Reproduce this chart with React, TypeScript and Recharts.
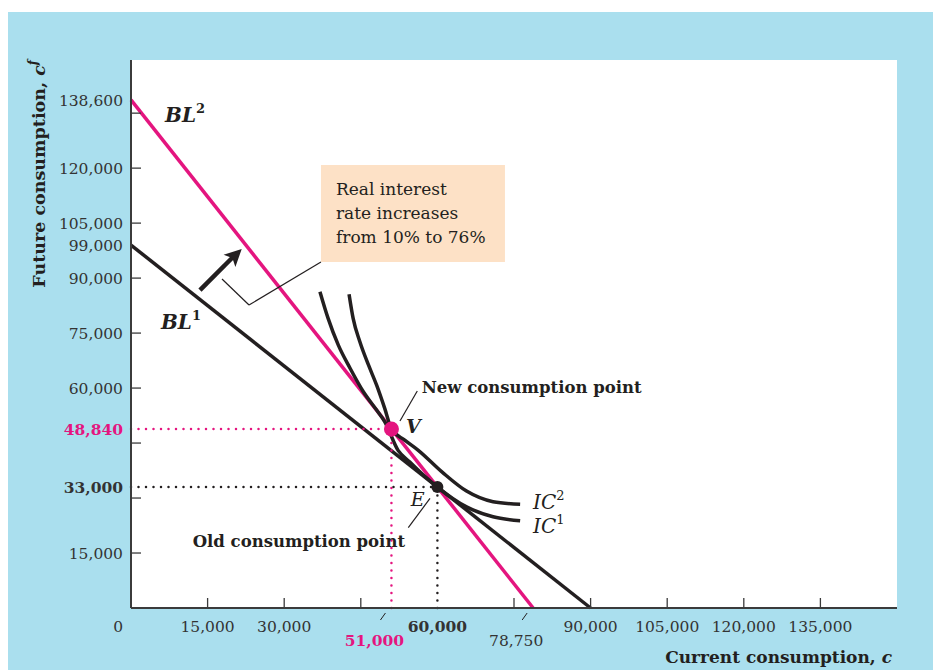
import React from 'react';
import {
  ComposedChart,
  Line,
  XAxis,
  YAxis,
  CartesianGrid,
  ReferenceLine,
  ReferenceDot,
  ReferenceArea,
} from 'recharts';

const MAGENTA = '#e4157f';
const INK     = '#231f20';
const AXIS    = '#3b3b3b';
const SKY     = '#aadfee';
const PEACH   = '#fde1c6';
const FONT    = '"DejaVu Serif", serif';

// budget lines: current consumption c, future consumption cf
const bl1 = [{ c: 0, cf: 99000 }, { c: 90000, cf: 0 }];
const bl2 = [{ c: 0, cf: 138600 }, { c: 78750, cf: 0 }];

// indifference curves
const ic1 = [
  { c: 37000, cf: 86300 },
  { c: 38600, cf: 79000 },
  { c: 40600, cf: 71700 },
  { c: 42900, cf: 65400 },
  { c: 45500, cf: 59000 },
  { c: 48100, cf: 54000 },
  { c: 49700, cf: 50800 },
  { c: 52300, cf: 43000 },
  { c: 54600, cf: 39800 },
  { c: 57300, cf: 36200 },
  { c: 60000, cf: 33000 },
  { c: 65700, cf: 27600 },
  { c: 70900, cf: 24900 },
  { c: 76200, cf: 23800 },
];
const ic2 = [
  { c: 42700, cf: 85600 },
  { c: 43500, cf: 79000 },
  { c: 44800, cf: 72700 },
  { c: 46500, cf: 66300 },
  { c: 48100, cf: 60800 },
  { c: 49700, cf: 54400 },
  { c: 51000, cf: 48840 },
  { c: 53600, cf: 45800 },
  { c: 56200, cf: 43100 },
  { c: 61000, cf: 37000 },
  { c: 65700, cf: 31900 },
  { c: 70900, cf: 29000 },
  { c: 76200, cf: 28300 },
];

const oldPoint = { c: 60000, cf: 33000 };
const newPoint = { c: 51000, cf: 48840 };

// axis ticks
const xTicks     = [0, 15000, 30000, 45000, 51000, 60000, 75000, 78750, 90000, 105000, 120000, 135000];
const xMarks     = [15000, 30000, 45000, 75000, 90000, 105000, 120000, 135000];
const xLabels    = [0, 15000, 30000, 51000, 60000, 78750, 90000, 105000, 120000, 135000];
const xLowered   = [51000, 78750];
const xBold      = [51000, 60000];
const yTicks     = [15000, 30000, 33000, 45000, 48840, 60000, 75000, 90000, 99000, 105000, 120000, 135000, 138600];
const yMarks     = [15000, 30000, 45000, 60000, 75000, 90000, 105000, 120000, 135000];
const yLabels    = [15000, 33000, 48840, 60000, 75000, 90000, 99000, 105000, 120000, 138600];
const yBold      = [33000, 48840];
const pinkTicks  = [48840, 51000];

const fmt = (v: number) => v.toLocaleString('en-US');

// eslint-disable-next-line @typescript-eslint/no-explicit-any
function YTick({ x, y, payload }: any) {
  const v = payload.value;
  return (
    <g>
      {yMarks.includes(v) && <line x1={x} x2={x + 10} y1={y} y2={y} stroke={AXIS} strokeWidth={1.3} />}
      {yLabels.includes(v) && (
        <text
          x={x - 8} y={y} dy="0.36em" textAnchor="end"
          fontFamily={FONT} fontSize={15.5}
          fontWeight={yBold.includes(v) ? 700 : 400}
          fill={pinkTicks.includes(v) ? MAGENTA : '#333'}
        >
          {fmt(v)}
        </text>
      )}
    </g>
  );
}

// eslint-disable-next-line @typescript-eslint/no-explicit-any
function XTick({ x, y, payload }: any) {
  const v = payload.value;
  const low = xLowered.includes(v);
  return (
    <g>
      {xMarks.includes(v) && <line x1={x} x2={x} y1={y} y2={y - 10} stroke={AXIS} strokeWidth={1.3} />}
      {low && <line x1={x - 11} y1={y + 12} x2={x - 6} y2={y + 5} stroke={INK} strokeWidth={1} />}
      {xLabels.includes(v) && (
        <text
          x={v === 0 ? x - 8 : low ? x - 17 : x}
          y={low ? y + 38 : y + 24}
          textAnchor={v === 0 ? 'end' : 'middle'}
          fontFamily={FONT} fontSize={15.5}
          fontWeight={xBold.includes(v) ? 700 : 400}
          fill={pinkTicks.includes(v) ? MAGENTA : '#333'}
        >
          {fmt(v)}
        </text>
      )}
    </g>
  );
}

// eslint-disable-next-line @typescript-eslint/no-explicit-any
const yTitle = (props: any) => {
  const { x, y } = props.viewBox;
  return (
    <text
      transform={`translate(${x + 24},${y}) rotate(-90)`}
      textAnchor="end" fontFamily={FONT} fontSize={17.5} fontWeight={700} fill={INK}
    >
      Future consumption, <tspan fontStyle="italic">c</tspan>
      <tspan fontStyle="italic" fontSize={12} dy={-8}>f</tspan>
    </text>
  );
};

// eslint-disable-next-line @typescript-eslint/no-explicit-any
const xTitle = (props: any) => {
  const { x, y, width } = props.viewBox;
  return (
    <text
      x={x + width - 5} y={y + 55}
      textAnchor="end" fontFamily={FONT} fontSize={17} fontWeight={700} fill={INK}
    >
      Current consumption, <tspan fontStyle="italic">c</tspan>
    </text>
  );
};

// eslint-disable-next-line @typescript-eslint/no-explicit-any
const curveLabel = (name: string, sup: string, bold: boolean) => (p: any) => (
  <text x={p.cx} y={p.cy} fontFamily={FONT} fontSize={20} fontStyle="italic" fontWeight={bold ? 700 : 400} fill={INK}>
    {name}
    <tspan fontStyle="normal" fontSize={13} dy={-9}>{sup}</tspan>
  </text>
);

// eslint-disable-next-line @typescript-eslint/no-explicit-any
const plainLabel = (text: string, opts: any = {}) => (p: any) => (
  <text x={p.cx} y={p.cy} fontFamily={FONT} fontSize={16.5} fill={INK} {...opts}>
    {text}
  </text>
);

// eslint-disable-next-line @typescript-eslint/no-explicit-any
const boxText = (p: any) => (
  <text x={p.cx} y={p.cy} fontFamily={FONT} fontSize={17} fill={INK}>
    <tspan x={p.cx}>Real interest</tspan>
    <tspan x={p.cx} dy={24}>rate increases</tspan>
    <tspan x={p.cx} dy={24}>from 10% to 76%</tspan>
  </text>
);

// eslint-disable-next-line @typescript-eslint/no-explicit-any
const arrowHead = (p: any) => (
  <polygon
    points="0,0 -17,-8.5 -13,0 -17,8.5"
    fill={INK}
    transform={`translate(${p.cx},${p.cy}) rotate(-44)`}
  />
);

export default function App() {
  return (
    <div style={{ position: 'absolute', left: 8, top: 12, width: 925, height: 658, background: SKY }}>
      <ComposedChart width={925} height={658} margin={{ top: 48, right: 36, bottom: 12, left: 13 }}>
        <CartesianGrid horizontal={false} vertical={false} fill="#ffffff" />
        <XAxis
          type="number" dataKey="c" domain={[0, 150000]} ticks={xTicks} interval={0}
          height={50} tickSize={0} tickMargin={0} tickLine={false}
          axisLine={{ stroke: AXIS, strokeWidth: 2 }}
          tick={(p: any) => <XTick {...p} />}
          label={xTitle}
        />
        <YAxis
          type="number" dataKey="cf" domain={[0, 149500]} ticks={yTicks} interval={0}
          width={110} tickSize={0} tickMargin={0} tickLine={false}
          axisLine={{ stroke: AXIS, strokeWidth: 2 }}
          tick={(p: any) => <YTick {...p} />}
          label={yTitle}
        />

        <ReferenceArea x1={37200} x2={73230} y1={94380} y2={120840} fill={PEACH} fillOpacity={1} stroke="none" />

        <Line data={bl2} dataKey="cf" type="linear" stroke={MAGENTA} strokeWidth={3.5} dot={false} activeDot={false} isAnimationActive={false} />
        <Line data={bl1} dataKey="cf" type="linear" stroke={INK} strokeWidth={3.5} dot={false} activeDot={false} isAnimationActive={false} />
        <Line data={ic1} dataKey="cf" type="monotone" stroke={INK} strokeWidth={3.5} dot={false} activeDot={false} isAnimationActive={false} />
        <Line data={ic2} dataKey="cf" type="monotone" stroke={INK} strokeWidth={3.5} dot={false} activeDot={false} isAnimationActive={false} />

        {/* dotted guides */}
        <ReferenceLine segment={[{ x: 0, y: newPoint.cf }, { x: newPoint.c, y: newPoint.cf }]} stroke={MAGENTA} strokeWidth={2.5} strokeDasharray="0 7.5" strokeLinecap="round" />
        <ReferenceLine segment={[{ x: newPoint.c, y: 0 }, { x: newPoint.c, y: newPoint.cf }]} stroke={MAGENTA} strokeWidth={2.5} strokeDasharray="0 7.5" strokeLinecap="round" />
        <ReferenceLine segment={[{ x: 0, y: oldPoint.cf }, { x: oldPoint.c, y: oldPoint.cf }]} stroke={INK} strokeWidth={2.5} strokeDasharray="0 7.5" strokeLinecap="round" />
        <ReferenceLine segment={[{ x: oldPoint.c, y: 0 }, { x: oldPoint.c, y: oldPoint.cf }]} stroke={INK} strokeWidth={2.5} strokeDasharray="0 7.5" strokeLinecap="round" />

        {/* leaders */}
        <ReferenceLine segment={[{ x: 37200, y: 94380 }, { x: 23110, y: 82650 }]} stroke={INK} strokeWidth={1.2} />
        <ReferenceLine segment={[{ x: 23110, y: 82650 }, { x: 17820, y: 89740 }]} stroke={INK} strokeWidth={1.2} />
        <ReferenceLine segment={[{ x: 52670, y: 51010 }, { x: 56060, y: 59180 }]} stroke={INK} strokeWidth={1.2} />
        <ReferenceLine segment={[{ x: 54300, y: 21900 }, { x: 58550, y: 29920 }]} stroke={INK} strokeWidth={1.2} />

        {/* shift arrow */}
        <ReferenceLine segment={[{ x: 13510, y: 86740 }, { x: 20170, y: 96020 }]} stroke={INK} strokeWidth={4.5} />
        <ReferenceDot x={21680} y={97930} r={1} shape={arrowHead} />

        <ReferenceDot x={newPoint.c} y={newPoint.cf} r={7.5} fill={MAGENTA} stroke="none" />
        <ReferenceDot x={oldPoint.c} y={oldPoint.cf} r={6} fill={INK} stroke="none" />

        {/* labels */}
        <ReferenceDot x={6660} y={132570} r={1} shape={curveLabel('BL', '2', true)} />
        <ReferenceDot x={5870} y={76030} r={1} shape={curveLabel('BL', '1', true)} />
        <ReferenceDot x={78720} y={27000} r={1} shape={curveLabel('IC', '2', false)} />
        <ReferenceDot x={78720} y={20460} r={1} shape={curveLabel('IC', '1', false)} />
        <ReferenceDot x={53850} y={47740} r={1} shape={plainLabel('V', { fontSize: 19, fontStyle: 'italic', fontWeight: 700 })} />
        <ReferenceDot x={54770} y={27820} r={1} shape={plainLabel('E', { fontSize: 19, fontStyle: 'italic' })} />
        <ReferenceDot x={56920} y={58570} r={1} shape={plainLabel('New consumption point', { fontWeight: 700 })} />
        <ReferenceDot x={12080} y={16640} r={1} shape={plainLabel('Old consumption point', { fontWeight: 700 })} />
        <ReferenceDot x={40140} y={112660} r={1} shape={boxText} />
      </ComposedChart>
    </div>
  );
}
